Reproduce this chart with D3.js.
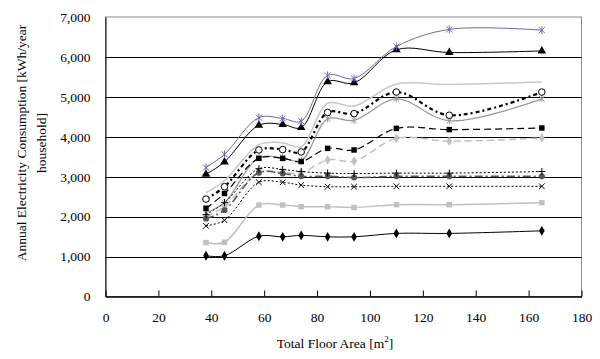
<!DOCTYPE html>
<html>
  <head>
    <meta charset="utf-8">
    <title>Electricity consumption by floor area</title>
    <script src="https://d3js.org/d3.v7.min.js"></script>
    <style>
      body { margin: 0; background: #fff; }
      svg text { font-family: "Liberation Serif", "Times New Roman", serif; font-size: 13.5px; fill: #000; }
    </style>
  </head>
  <body>
    <svg id="chart" width="600" height="359"></svg>
    <script>
      // data
      floorArea = [38, 45, 58, 67, 74, 84, 94, 110, 130, 165];
      blueStar = [3230, 3560, 4480, 4460, 4390, 5540, 5460, 6260, 6690, 6670];
      blackTriangle = [3060, 3370, 4290, 4310, 4230, 5380, 5350, 6180, 6110, 6150];
      greyPlain = [2600, 2900, 3800, 3850, 3750, 4840, 4770, 5320, 5310, 5370];
      openCircle = [2440, 2750, 3670, 3680, 3620, 4610, 4580, 5120, 4540, 5120];
      greyStar = [2100, 2350, 3480, 3470, 3400, 4450, 4410, 4950, 4400, 4950];
      blackSquare = [2210, 2580, 3460, 3460, 3380, 3710, 3670, 4210, 4180, 4220];
      greyDiamond = [2000, 2250, 3120, 3100, 3100, 3420, 3390, 3960, 3890, 3970];
      blackPlus = [2050, 2350, 3200, 3180, 3130, 3090, 3080, 3090, 3090, 3130];
      darkCircle = [1950, 2160, 3100, 3080, 3010, 3010, 2980, 3010, 3010, 3010];
      blackCross = [1770, 1910, 2860, 2860, 2790, 2750, 2750, 2760, 2760, 2760];
      greySquare = [1350, 1360, 2290, 2290, 2250, 2250, 2230, 2300, 2300, 2350];
      blackDiamond = [1020, 1020, 1510, 1495, 1530, 1495, 1495, 1580, 1580, 1645];
      xTicks = [0, 20, 40, 60, 80, 100, 120, 140, 160, 180];
      yTicks = [0, 1000, 2000, 3000, 4000, 5000, 6000, 7000];

      // chart frame
      const svg = d3.select("#chart");
      const plotLeft = 105.5, plotRight = 581.5, plotTop = 17, plotBottom = 296.5;
      const x = d3.scaleLinear().domain([0, 180]).range([plotLeft, plotRight]);
      const y = d3.scaleLinear().domain([0, 7000]).range([plotBottom, plotTop]);

      // marker shapes
      function starPath(s) {
        return "M" + (-s) + "," + (-s) + "L" + s + "," + s + "M" + (-s) + "," + s + "L" + s + "," + (-s)
          + "M0," + (-s * 1.3) + "L0," + (s * 1.3);
      }
      function plusPath(s) {
        return "M" + (-s) + ",0L" + s + ",0M0," + (-s) + "L0," + s;
      }
      function crossPath(s) {
        return "M" + (-s) + "," + (-s) + "L" + s + "," + s + "M" + (-s) + "," + s + "L" + s + "," + (-s);
      }
      function sym(type, size) { return d3.symbol().type(type).size(size)(); }

      const series = [
        { values: greyPlain, stroke: "#c8c8c8", width: 1.5, dash: null, marker: null },
        { values: greySquare, stroke: "#c0c0c0", width: 1.5, dash: null, marker: sym(d3.symbolSquare, 30), fill: "#c0c0c0" },
        { values: greyDiamond, stroke: "#c0c0c0", width: 1.5, dash: "7,4", marker: sym(d3.symbolDiamond, 28), fill: "#c0c0c0" },
        { values: greyStar, stroke: "#999999", width: 1.2, dash: null, marker: starPath(2.8), fill: "none", mstroke: "#999999" },
        { values: darkCircle, stroke: "#5a5a5a", width: 1.6, dash: "8,3,2,3", marker: sym(d3.symbolCircle, 28), fill: "#555555" },
        { values: blackCross, stroke: "#000", width: 1, dash: "2,2", marker: crossPath(2.8), fill: "none", mstroke: "#000" },
        { values: blackPlus, stroke: "#000", width: 1, dash: "2,2", marker: plusPath(3.5), fill: "none", mstroke: "#000" },
        { values: blackSquare, stroke: "#000", width: 1.2, dash: "7,4", marker: sym(d3.symbolSquare, 30), fill: "#000" },
        { values: openCircle, stroke: "#000", width: 2.2, dash: "4,3,2,3", marker: sym(d3.symbolCircle, 34), fill: "#fff", mstroke: "#000" },
        { values: blackDiamond, stroke: "#000", width: 1, dash: null, marker: sym(d3.symbolDiamond, 28), fill: "#000" },
        { values: blackTriangle, stroke: "#000", width: 1, dash: null, marker: sym(d3.symbolTriangle, 32), fill: "#000" },
        { values: blueStar, stroke: "#6b6bb0", width: 1, dash: null, marker: starPath(3), fill: "none", mstroke: "#6b6bb0" }
      ];

      // plot area border
      svg.append("rect")
        .attr("x", plotLeft).attr("y", plotTop)
        .attr("width", plotRight - plotLeft).attr("height", plotBottom - plotTop)
        .attr("fill", "none").attr("stroke", "#8c8c8c");

      // gridlines
      svg.append("g").selectAll("line")
        .data(yTicks.slice(1, -1))
        .join("line")
          .attr("x1", plotLeft).attr("x2", plotRight)
          .attr("y1", function(d) { return Math.round(y(d)) + .5; })
          .attr("y2", function(d) { return Math.round(y(d)) + .5; })
          .attr("stroke", "#000");

      // axes
      const xAxis = svg.append("g")
        .attr("transform", "translate(0," + plotBottom + ")")
        .call(d3.axisBottom(x).tickValues(xTicks).tickSizeInner(-6).tickSizeOuter(0).tickPadding(16));
      const yAxis = svg.append("g")
        .attr("transform", "translate(" + plotLeft + ",0)")
        .call(d3.axisLeft(y).tickValues(yTicks).tickFormat(d3.format(",")).tickSizeInner(0).tickSizeOuter(0).tickPadding(15));
      xAxis.attr("font-family", null).attr("font-size", null);
      yAxis.attr("font-family", null).attr("font-size", null);
      xAxis.select(".domain").attr("stroke", "#000").attr("stroke-width", 1.5);
      yAxis.select(".domain").attr("stroke", "#000");

      // lines and markers
      const line = d3.line()
        .x(function(d, i) { return x(floorArea[i]); })
        .y(function(d) { return y(d); })
        .curve(d3.curveCatmullRom.alpha(0.5));
      const seriesGroup = svg.append("g");
      series.forEach(function(s) {
        seriesGroup.append("path")
          .attr("d", line(s.values))
          .attr("fill", "none")
          .attr("stroke", s.stroke)
          .attr("stroke-width", s.width)
          .attr("stroke-dasharray", s.dash);
        if (!s.marker) return;
        seriesGroup.append("g").selectAll("path")
          .data(s.values)
          .join("path")
            .attr("transform", function(d, i) { return "translate(" + x(floorArea[i]) + "," + y(d) + ")"; })
            .attr("d", s.marker)
            .attr("fill", s.fill)
            .attr("stroke", s.mstroke || "none")
            .attr("stroke-width", 1);
      });

      // axis titles
      svg.append("text")
        .attr("x", 335).attr("y", 348)
        .attr("text-anchor", "middle")
        .html("Total Floor Area [m<tspan dy='-6' font-size='9px'>2</tspan><tspan dy='6'>]</tspan>");
      const yTitle = svg.append("text")
        .attr("transform", "translate(26,143) rotate(-90)")
        .attr("text-anchor", "middle");
      yTitle.append("tspan").attr("x", 0).attr("y", 0).text("Annual Electricity Consumption [kWh/year");
      yTitle.append("tspan").attr("x", 0).attr("y", 20).text("household]");
    </script>
  </body>
</html>
